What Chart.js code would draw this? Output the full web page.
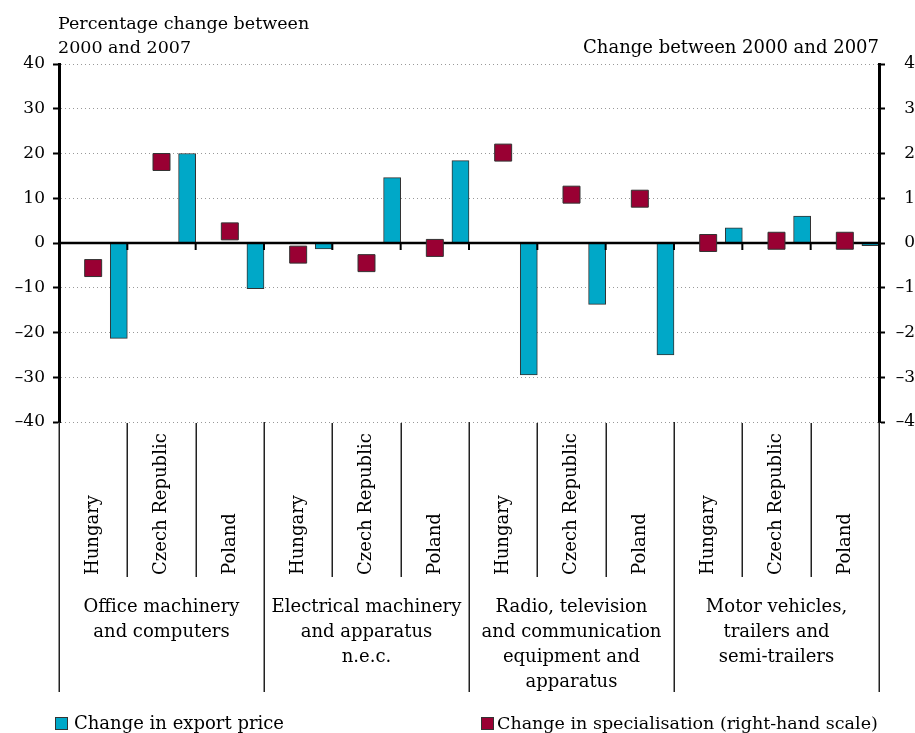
<!DOCTYPE html>
<html>
<head>
<meta charset="utf-8">
<script src="https://cdn.jsdelivr.net/npm/chart.js@4.4.1/dist/chart.umd.min.js"></script>
<style>
html,body{margin:0;padding:0;background:#fff;}
#wrap{width:915px;height:733px;}
</style>
</head>
<body>
<div id="wrap"><canvas id="c" width="915" height="733"></canvas></div>
<script>
// ---- data ----
const countries = ['Hungary','Czech Republic','Poland','Hungary','Czech Republic','Poland',
                   'Hungary','Czech Republic','Poland','Hungary','Czech Republic','Poland'];
const sectors = [
  ['Office machinery','and computers'],
  ['Electrical machinery','and apparatus','n.e.c.'],
  ['Radio, television','and communication','equipment and','apparatus'],
  ['Motor vehicles,','trailers and','semi-trailers']
];
const exportPriceChange = [-21.3, 20.0, -10.2, -1.3, 14.6, 18.4, -29.5, -13.7, -25.0, 3.4, 6.0, -0.6];
const specialisationChange = [-0.56, 1.81, 0.26, -0.26, -0.45, -0.11, 2.02, 1.08, 0.99, 0.0, 0.05, 0.05];
const leftRange = [-40, 40];
const rightRange = [-4, 4];
const leftTitle = ['Percentage change between','2000 and 2007'];
const rightTitle = 'Change between 2000 and 2007';
const seriesNames = ['Change in export price','Change in specialisation (right-hand scale)'];

// ---- styles ----
const FONT_FAMILY = '"DejaVu Serif", serif';
const TICK_SIZE = 17;
const f = s => s + 'px ' + FONT_FAMILY;
const BAR_COLOR = '#00A8C8';
const SQ_COLOR = '#990033';
const EDGE = '#333333';

const fmt = v => (v < 0 ? '\u2013' + Math.abs(v) : String(v));
const empty = countries.map(() => null);

const decor = {
  id: 'decor',
  beforeDatasetDraw(chart, args) {
    if (args.index !== 4) return;
    const {ctx, chartArea: a, scales: {x, y}} = chart;
    const y0 = y.getPixelForValue(0);
    const half = (x.getPixelForValue(1) - x.getPixelForValue(0)) / 2;
    ctx.save();
    ctx.strokeStyle = '#000';
    ctx.lineWidth = 2.5;
    ctx.beginPath();
    ctx.moveTo(a.left, y0); ctx.lineTo(a.right, y0);
    ctx.stroke();
    ctx.lineWidth = 2;
    ctx.beginPath();
    for (let i = 0; i <= countries.length; i++) {
      const bx = i < countries.length ? x.getPixelForValue(i) - half : x.getPixelForValue(countries.length - 1) + half;
      ctx.moveTo(bx, y0); ctx.lineTo(bx, y0 + 7);
    }
    ctx.stroke();
    ctx.restore();
  },
  afterDraw(chart) {
    const {ctx, chartArea: a, scales: {x}} = chart;
    const half = (x.getPixelForValue(1) - x.getPixelForValue(0)) / 2;
    const bnd = i => i < countries.length ? x.getPixelForValue(i) - half : x.getPixelForValue(countries.length - 1) + half;
    ctx.save();
    // separators under the axis
    ctx.strokeStyle = '#222';
    ctx.lineWidth = 1.5;
    for (let i = 0; i <= countries.length; i++) {
      const bx = Math.round(bnd(i)) + 0.25;
      ctx.beginPath();
      if (i % 3 === 0) { ctx.moveTo(bx, a.bottom); ctx.lineTo(bx, 692); }
      else { ctx.moveTo(bx, a.bottom + 1); ctx.lineTo(bx, 577); }
      ctx.stroke();
    }
    ctx.fillStyle = '#000';
    // country labels (rotated)
    ctx.font = f(18);
    ctx.textAlign = 'left';
    ctx.textBaseline = 'middle';
    countries.forEach((c, i) => {
      ctx.save();
      ctx.translate(x.getPixelForValue(i), 575);
      ctx.rotate(-Math.PI / 2);
      ctx.fillText(c, 0, 0);
      ctx.restore();
    });
    // sector labels
    ctx.textAlign = 'center';
    sectors.forEach((lines, g) => {
      const cx = (bnd(g * 3) + bnd(g * 3 + 3)) / 2;
      lines.forEach((t, k) => ctx.fillText(t, cx, 607 + k * 25));
    });
    // axis titles
    ctx.font = f(17.5);
    ctx.textAlign = 'left';
    ctx.fillText(leftTitle[0], 58, 24);
    ctx.fillText(leftTitle[1], 58, 48);
    ctx.font = f(18);
    ctx.textAlign = 'right';
    ctx.fillText(rightTitle, 879, 48);
    // legend
    ctx.textAlign = 'left';
    ctx.textBaseline = 'alphabetic';
    ctx.lineWidth = 1;
    ctx.strokeStyle = EDGE;
    ctx.fillStyle = BAR_COLOR;
    ctx.fillRect(55.5, 717.5, 12, 12); ctx.strokeRect(55.5, 717.5, 12, 12);
    ctx.fillStyle = SQ_COLOR;
    ctx.fillRect(481.5, 717.5, 12, 12); ctx.strokeRect(481.5, 717.5, 12, 12);
    ctx.fillStyle = '#000';
    ctx.font = f(18);
    ctx.fillText(seriesNames[0], 74, 729);
    ctx.font = f(17.5);
    ctx.fillText(seriesNames[1], 497, 729);
    ctx.restore();
  }
};

new Chart(document.getElementById('c'), {
  type: 'bar',
  data: {
    labels: countries,
    datasets: [
      {label: '_a', data: empty, order: 1},
      {label: '_b', data: empty, order: 1},
      {label: '_c', data: empty, order: 1},
      {label: seriesNames[0], data: exportPriceChange, backgroundColor: BAR_COLOR,
       borderColor: EDGE, borderWidth: 1, order: 1, yAxisID: 'y'},
      {type: 'line', label: seriesNames[1], data: specialisationChange, yAxisID: 'y1',
       showLine: false, pointStyle: 'rect', pointRadius: 12, pointHoverRadius: 12,
       backgroundColor: SQ_COLOR, borderColor: EDGE, borderWidth: 1, order: 0}
    ]
  },
  options: {
    responsive: false,
    animation: false,
    events: [],
    categoryPercentage: 1,
    barPercentage: 1,
    layout: {padding: {top: 64, bottom: 311, left: 0, right: 0}},
    plugins: {legend: {display: false}, tooltip: {enabled: false}},
    scales: {
      x: {display: false, offset: true},
      y: {
        position: 'left', min: leftRange[0], max: leftRange[1],
        ticks: {stepSize: 10, color: '#000', font: {family: FONT_FAMILY, size: TICK_SIZE}, padding: 8, callback: fmt},
        grid: {color: '#999', lineWidth: 1, drawTicks: true, tickLength: 6, tickColor: '#000', tickWidth: 2, tickBorderDash: []},
        border: {display: true, color: '#000', width: 3, dash: [1, 3]},
        afterFit(s) { s.width = 59; }
      },
      y1: {
        position: 'right', min: rightRange[0], max: rightRange[1],
        ticks: {stepSize: 1, color: '#000', font: {family: FONT_FAMILY, size: TICK_SIZE}, padding: 8, crossAlign: 'far', callback: fmt},
        grid: {drawOnChartArea: false, drawTicks: true, tickLength: 6, tickColor: '#000', tickWidth: 2},
        border: {display: true, color: '#000', width: 3},
        afterFit(s) { s.width = 36; }
      }
    }
  },
  plugins: [decor]
});
</script>
</body>
</html>
